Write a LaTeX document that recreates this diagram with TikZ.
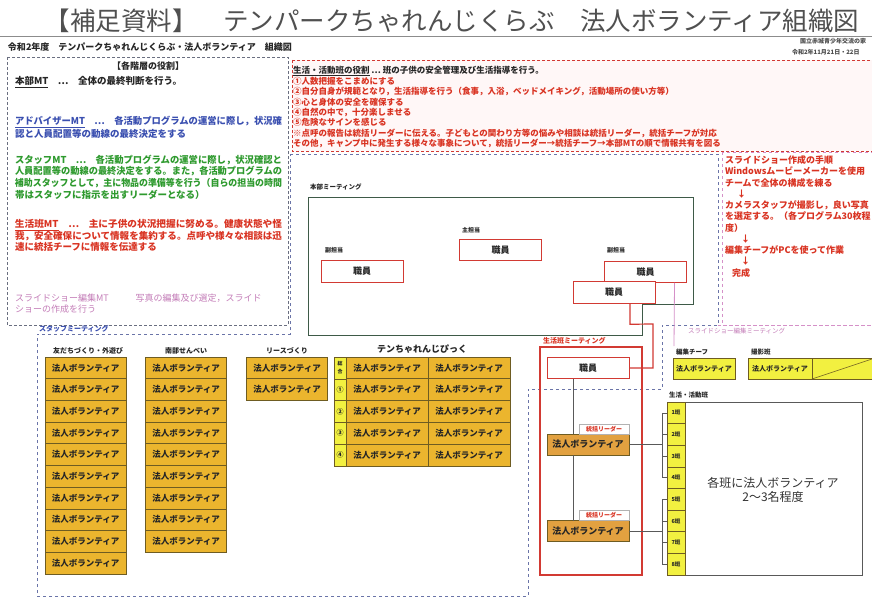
\documentclass[tikz,border=0pt]{standalone}
\usepackage{fontspec}
\usepackage{graphicx}
\setmainfont{Noto Sans CJK JP}
\usetikzlibrary{calc}
\newcommand\myfs[1]{\fontsize{#1}{#1}\selectfont}
\newcommand\fullline[1]{\resizebox{267pt}{\height}{#1}}
\definecolor{titlegray}{HTML}{505050}
\definecolor{advblue}{HTML}{3A4FB0}
\definecolor{staffgreen}{HTML}{2E9A2E}
\definecolor{lifered}{HTML}{D93322}
\definecolor{slidepink}{HTML}{C47DB8}
\definecolor{boxred}{HTML}{D23A33}
\definecolor{hqgreen}{HTML}{3E5A48}
\definecolor{goldfill}{HTML}{EBB52E}
\definecolor{goldline}{HTML}{6E5C22}
\definecolor{orangefill}{HTML}{E2A140}
\definecolor{limefill}{HTML}{F2F040}
\definecolor{dashblue}{HTML}{6A74A8}
\definecolor{rolegray}{HTML}{6A6F80}
\definecolor{pinkline}{HTML}{D590C8}
\begin{document}
\begin{tikzpicture}[x=1pt,y=-1pt,
 every node/.style={inner sep=0pt,outer sep=0pt},
 roletxt/.style={anchor=west,font=\myfs{9.5}\bfseries},
 redtxt/.style={anchor=west,font=\myfs{8.5}\bfseries,text=lifered},
 slidetxt/.style={anchor=west,font=\myfs{9}\bfseries,text=lifered},
 lbl/.style={anchor=west,font=\myfs{6.5}\bfseries,text=black!85},
 clbl/.style={font=\myfs{7}\bfseries,text=black!85},
 goldbox/.style={draw=goldline,fill=goldfill,line width=0.7pt,minimum width=81pt,minimum height=21.7pt,font=\myfs{8.5}\bfseries,text=black!85},
 orangebox/.style={draw=goldline,fill=orangefill,line width=0.7pt,minimum width=82pt,minimum height=21pt,font=\myfs{9}\bfseries,text=black!85},
 limebox/.style={draw=goldline,fill=limefill,line width=0.7pt,minimum height=21pt,font=\myfs{7}\bfseries,text=black!85},
 hanbox/.style={draw=goldline,fill=limefill,line width=0.6pt,minimum width=18pt,minimum height=21.625pt,font=\myfs{5.5}\bfseries,text=black!85},
 numbox/.style={draw=goldline,fill=limefill,line width=0.6pt,minimum width=12pt,minimum height=21.8pt,font=\myfs{7}\bfseries,text=black!85},
 staffbox/.style={draw=boxred,fill=white,line width=1pt,minimum width=82pt,minimum height=21.5pt,font=\myfs{9}\bfseries,text=black!85},
 tagbox/.style={draw=black!30,fill=white,line width=0.5pt,minimum width=50pt,minimum height=10pt,font=\myfs{6}\bfseries,text=lifered},
 conn/.style={draw=black!65,line width=0.6pt},
]
\useasboundingbox (0,0) rectangle (872,599);
\clip (0,0) rectangle (872,599);
\fill[white] (0,0) rectangle (872,599);

% ---------- title ----------
\node[font=\myfs{25.5},text=titlegray] (title) at (452,21) {【補足資料】　テンパークちゃれんじくらぶ　法人ボランティア組織図};
\draw[black!45,line width=1pt] (0,37) -- (872,37);
\node[anchor=west,font=\myfs{9}\bfseries,text=black!85] (sub) at (8,47) {令和2年度　テンパークちゃれんじくらぶ・法人ボランティア　組織図};
\node[anchor=west,font=\myfs{6}\bfseries,text=black!70] (org) at (800,41) {国立赤城青少年交流の家};
\node[anchor=west,font=\myfs{6}\bfseries,text=black!70] (date) at (792,52) {令和2年11月21日・22日};

% ---------- containers ----------
\draw[rolegray,densely dashed,line width=0.8pt] (7,57) rectangle (288,325);
\draw[boxred,densely dashed,line width=0.9pt,fill=red!3] (292,60) rectangle (880,151);
\draw[pinkline,dashed,line width=0.8pt] (722,152) rectangle (880,325);
\draw[dashblue,dashed,line width=0.8pt] (290,154) -- (718,154) -- (718,325) -- (662,325) -- (662,389) -- (528,389) -- (528,596) -- (37,596) -- (37,334) -- (290,334) -- cycle;
\draw[pinkline,dashed,line width=0.8pt] (718,325) -- (880,325);

% ---------- roles text ----------
\node[font=\myfs{9}\bfseries,text=black!85] (rolehead) at (148,66) {【各階層の役割】};
\node[roletxt,text=black!85] (hqrole) at (15,82) {\underline{本部MT}\quad…\quad 全体の最終判断を行う。};
\node[roletxt,text=advblue] (adv1) at (15,122) {\fullline{\underline{アドバイザーMT}\quad…\quad 各活動プログラムの運営に際し，状況確}};
\node[roletxt,text=advblue] (adv2) at (15,133.5) {認と人員配置等の動線の最終決定をする};
\node[roletxt,text=staffgreen] (st1) at (15,160) {\fullline{スタッフMT\quad…\quad 各活動プログラムの運営に際し，状況確認と}};
\node[roletxt,text=staffgreen] (st2) at (15,171.5) {\fullline{人員配置等の動線の最終決定をする。また，各活動プログラムの}};
\node[roletxt,text=staffgreen] (st3) at (15,183) {\fullline{補助スタッフとして，主に物品の準備等を行う（自らの担当の時間}};
\node[roletxt,text=staffgreen] (st4) at (15,194.5) {帯はスタッフに指示を出すリーダーとなる）};
\node[roletxt,text=lifered] (lf1) at (15,225) {\fullline{\underline{生活班MT}\quad…\quad 主に子供の状況把握に努める。健康状態や怪}};
\node[roletxt,text=lifered] (lf2) at (15,236) {\fullline{我，安全確保について情報を集約する。点呼や様々な相談は迅}};
\node[roletxt,text=lifered] (lf3) at (15,247) {速に統括チーフに情報を伝達する};
\node[roletxt,font=\myfs{9},text=slidepink] (sd1) at (15,298) {スライドショー編集MT\qquad\quad 写真の編集及び選定，スライド};
\node[roletxt,font=\myfs{9},text=slidepink] (sd2) at (15,309) {ショーの作成を行う};

% ---------- red box text ----------
\node[redtxt,text=black!85] (r0) at (293,71) {\underline{生活・活動班の役割}\ …\ 班の子供の安全管理及び生活指導を行う。};
\node[redtxt] (r1) at (293,81.3) {①人数把握をこまめにする};
\node[redtxt] (r2) at (293,91.6) {②自分自身が規範となり，生活指導を行う（食事，入浴，ベッドメイキング，活動場所の使い方等）};
\node[redtxt] (r3) at (293,102) {③心と身体の安全を確保する};
\node[redtxt] (r4) at (293,112.3) {④自然の中で，十分楽しませる};
\node[redtxt] (r5) at (293,122.6) {⑤危険なサインを感じる};
\node[redtxt] (r6) at (293,133) {※点呼の報告は統括リーダーに伝える。子どもとの関わり方等の悩みや相談は統括リーダー，統括チーフが対応};
\node[redtxt] (r7) at (293,143.3) {その他，キャンプ中に発生する様々な事象について，統括リーダー→統括チーフ→本部MTの順で情報共有を図る};

% ---------- slide procedure ----------
\node[slidetxt] (p1) at (725,160) {スライドショー作成の手順};
\node[slidetxt] (p2) at (725,171.5) {Windowsムービーメーカーを使用};
\node[slidetxt] (p3) at (725,183) {チームで全体の構成を練る};
\node[slidetxt] (p4) at (737,194) {↓};
\node[slidetxt] (p5) at (725,205) {カメラスタッフが撮影し，良い写真};
\node[slidetxt] (p6) at (725,216.5) {を選定する。（各プログラム30枚程};
\node[slidetxt] (p7) at (725,228) {度）};
\node[slidetxt] (p8) at (741,239) {↓};
\node[slidetxt] (p9) at (725,250) {編集チーフがPCを使って作業};
\node[slidetxt] (p10) at (741,261) {↓};
\node[slidetxt] (p11) at (732,273) {完成};

% ---------- HQ meeting ----------
\node[lbl] (hqlbl) at (310,187) {本部ミーティング};
\draw[hqgreen,line width=1pt] (308,197) -- (693,197) -- (693,304) -- (642,304) -- (642,335) -- (308,335) -- cycle;
\node[lbl,font=\myfs{6}\bfseries] (mainlbl) at (462,230) {主担当};
\node[lbl,font=\myfs{6}\bfseries] (sublbl1) at (325,250) {副担当};
\node[lbl,font=\myfs{6}\bfseries] (sublbl2) at (607,250) {副担当};
\node[staffbox] (hq1) at (362,271.5) {職員};
\node[staffbox] (hq2) at (500.5,250) {職員};
\node[staffbox] (hq3) at (645.5,272) {職員};
\node[staffbox] (hq4) at (614,292.5) {職員};

% ---------- life meeting ----------
\node[lbl,font=\myfs{7}\bfseries,text=lifered] (lifelbl) at (543,341) {生活班ミーティング};
\draw[boxred,line width=1.2pt] (540,347) rectangle (642,575);
\node[staffbox] (life0) at (588,368) {職員};
\node[orangebox] (lead1) at (588,444.5) {法人ボランティア};
\node[orangebox] (lead2) at (588,531) {法人ボランティア};
\node[tagbox] (tag1) at (604,429) {統括リーダー};
\node[tagbox] (tag2) at (604,515.5) {統括リーダー};
\draw[conn] ($(life0.south west)+(26,0)$) -- ($(lead1.north west)+(26,0)$);
\draw[conn] ($(lead1.south west)+(26,0)$) -- ($(lead2.north west)+(26,0)$);

% HQ -> life connectors
\coordinate (rc1) at (653,324);
\draw[boxred,line width=1.2pt] ($(hq4.south west)+(57,0)$) -- ($(hq4.south west)+(57,21)$) -- (rc1) |- (life0.east);
\coordinate (pk) at (674,346);
\draw[pinkline,line width=0.8pt] ($(hq3.south west)+(70,0)$) -- (pk);

% ---------- slide meeting ----------
\node[lbl,font=\myfs{6.5},text=slidepink] (slidelbl) at (688,331) {スライドショー編集ミーティング};
\node[lbl] (edlbl) at (676,352) {編集チーフ};
\node[lbl] (photolbl) at (751,352) {撮影班};
\node[limebox,minimum width=62pt] (ed) at (704,368.5) {法人ボランティア};
\node[limebox,minimum width=64pt] (photo) at (780,368.5) {法人ボランティア};
\draw[goldline,fill=limefill,line width=0.7pt] (812,358) rectangle (885,379);
\draw[goldline,line width=0.6pt] (812,379) -- (872,359);

% ---------- life/activity groups ----------
\node[lbl] (hanlbl) at (669,395) {生活・活動班};
\draw[black!65,line width=0.8pt] (667,402) rectangle (862,575);
\foreach \i in {1,...,8} \node[hanbox] (han\i) at (676,{402+21.625*(\i-0.5)}) {\i 班};
\node[font=\fontsize{12}{14.5}\selectfont,align=center,text=black!80] (hanmsg) at (773,490) {各班に法人ボランティア\\2〜3名程度};
\coordinate (br) at (662,444.5);
\draw[conn] (lead1.east) -- (lead1.east -| br);
\draw[conn] (han1.west -| br) -- (han4.west -| br);
\foreach \i in {1,...,4} \draw[conn] (han\i.west -| br) -- (han\i.west);
\draw[conn] (lead2.east) -- (lead2.east -| br);
\draw[conn] (han5.west -| br) -- (han8.west -| br);
\foreach \i in {5,...,8} \draw[conn] (han\i.west -| br) -- (han\i.west);

% ---------- staff meeting ----------
\node[lbl,font=\myfs{7}\bfseries,text=advblue] (stafflbl) at (39,329) {スタッフミーティング};
\node[clbl] (col1) at (88,351) {友だちづくり・外遊び};
\node[clbl] (col2) at (186,351) {南部せんべい};
\node[clbl] (col3) at (287,351) {リースづくり};
\node[clbl,font=\myfs{9}\bfseries] (col4) at (422,349) {テンちゃれんじぴっく};
\foreach \i in {1,...,10} \node[goldbox] (fa\i) at (85.5,{357+21.7*(\i-0.5)}) {法人ボランティア};
\foreach \i in {1,...,9} \node[goldbox] (fb\i) at (186,{357+21.7*(\i-0.5)}) {法人ボランティア};
\foreach \i in {1,...,2} \node[goldbox] (fc\i) at (287,{357+21.7*(\i-0.5)}) {法人ボランティア};
\foreach \i/\t in {0/{\myfs{5}\shortstack{総\\合}},1/①,2/②,3/③,4/④} {
  \node[numbox] (tn\i) at (340,{357+21.8*(\i+0.5)}) {\t};
  \node[goldbox,minimum width=82pt,minimum height=21.8pt] (tl\i) at (387,{357+21.8*(\i+0.5)}) {法人ボランティア};
  \node[goldbox,minimum width=82pt,minimum height=21.8pt] (tr\i) at (469,{357+21.8*(\i+0.5)}) {法人ボランティア};
}
\end{tikzpicture}
\end{document}
